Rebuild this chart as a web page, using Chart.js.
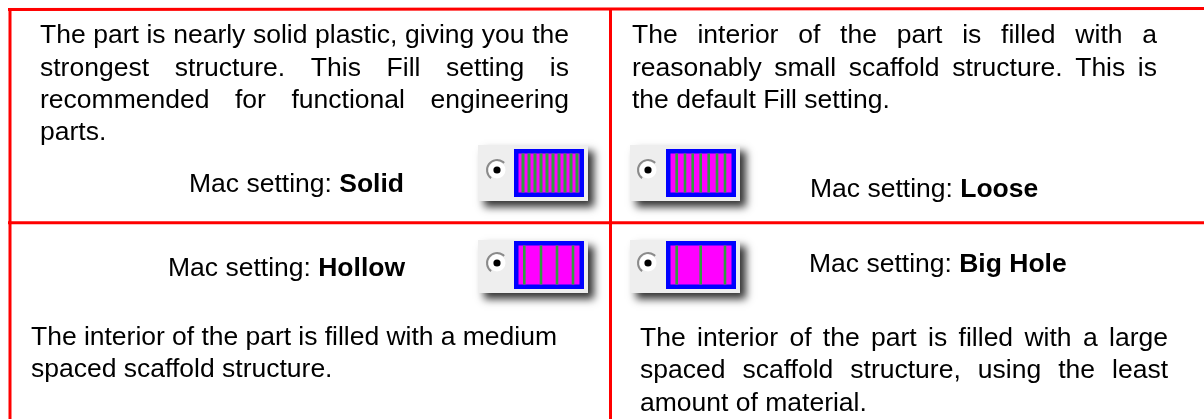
<!DOCTYPE html>
<html><head><meta charset="utf-8">
<style>html,body{margin:0;padding:0;background:#fff}canvas{display:block}</style>
<script src="https://cdn.jsdelivr.net/npm/chart.js@4/dist/chart.umd.min.js"></script>
</head><body><div style="width:1204px;height:419px"><canvas id="c" width="1204" height="419"></canvas></div>
<script>
const settingNames = ['Solid', 'Loose', 'Hollow', 'Big Hole'];
const solidText = ['The part is nearly solid plastic, giving you the','strongest structure. This Fill setting is','recommended for functional engineering','parts.'];
const looseText = ['The interior of the part is filled with a','reasonably small scaffold structure. This is','the default Fill setting.'];
const hollowText = ['The interior of the part is filled with a medium','spaced scaffold structure.'];
const bigHoleText = ['The interior of the part is filled with a large','spaced scaffold structure, using the least','amount of material.'];
const solidStripes = [523,529,535,541,547,553,559,565,571,577];
const looseStripes = [676.7,685,692.7,700.7,708.7,717,725];
const hollowStripes = [524.3,541,557,573];
const bigHoleStripes = [676.7,700.7,725];

const RED='#f00',BLUE='#00f',MAG='#f0f',GREEN='#2f9e3f';
const segs=[];
function seg(x1,y1,x2,y2,color,w){segs.push({type:'line',data:[{x:x1,y:y1},{x:x2,y:y2}],borderColor:color,borderWidth:w,pointRadius:0,fill:false,tension:0,borderCapStyle:'butt',order:-segs.length});}
const icons=[
 {name:settingNames[0],panel:[478,145,588,201],blue:[514,149,584,197],radio:[497,170],st:solidStripes,sw:3},
 {name:settingNames[1],panel:[630,145,740,201],blue:[666,149,736,197],radio:[648,170],st:looseStripes,sw:2.6},
 {name:settingNames[2],panel:[478,240,588,293],blue:[514,241,584,289],radio:[497,263],st:hollowStripes,sw:2.6},
 {name:settingNames[3],panel:[630,240,740,293],blue:[666,241,736,289],radio:[648,263],st:bigHoleStripes,sw:2.6}];
icons.forEach(ic=>{const [a,b,c,d]=ic.blue,m=(b+d)/2;
 seg(a,m,c,m,BLUE,d-b);
 seg(a+4.5,m,c-4.5,m,MAG,d-b-9);
 ic.st.forEach(x=>seg(x,b+4.5,x,d-4.5,GREEN,ic.sw));
});
seg(10,9,10,419,RED,3);
seg(8,9.5,1204,8.5,RED,3);
seg(610.5,8,610.5,419,RED,3);
seg(8,222.7,1204,222.7,RED,3);

const F='"Liberation Sans",Arial,sans-serif',FS=26.5,LH=32.3;
const blocks=[
 {lines:solidText,x:40,r:569,y:43.3},
 {lines:looseText,x:632,r:1157,y:43.3},
 {lines:hollowText,x:31,r:557,y:345},
 {lines:bigHoleText,x:640,r:1168,y:346}];
const macs=[
 {n:0,x:189,y:191.7},{n:1,x:810,y:196.7},{n:2,x:168,y:275.7},{n:3,x:809,y:271.7}];
const plugin={id:'sheet',
 beforeDatasetsDraw(ch){const g=ch.ctx,X=ch.scales.x,Y=ch.scales.y;
  g.save();
  icons.forEach(ic=>{const [a,b,c,d]=ic.panel;const x=X.getPixelForValue(a),y=Y.getPixelForValue(b),w=X.getPixelForValue(c)-x,h=Y.getPixelForValue(d)-y;
   g.shadowColor='rgba(0,0,0,.8)';g.shadowBlur=8;g.shadowOffsetX=6;g.shadowOffsetY=6;
   g.fillStyle='#eee';g.fillRect(x,y,w,h);
   g.shadowColor='transparent';g.shadowBlur=0;g.shadowOffsetX=0;g.shadowOffsetY=0;
  });
  g.restore();
 },
 afterDatasetsDraw(ch){const g=ch.ctx,X=ch.scales.x,Y=ch.scales.y;
  g.save();
  g.filter='blur(0.6px)';
  icons.forEach(ic=>{const x=X.getPixelForValue(ic.radio[0]),y=Y.getPixelForValue(ic.radio[1]);
   g.fillStyle='#fff';g.beginPath();g.arc(x,y,8.5,0,7);g.fill();
   g.strokeStyle='#8a8a8a';g.lineWidth=2;g.beginPath();g.arc(x,y,10,Math.PI*0.7,Math.PI*1.75);g.stroke();
   g.fillStyle='#000';g.beginPath();g.arc(x,y,3.6,0,7);g.fill();
  });
  g.filter='blur(0.3px)';
  g.fillStyle='#000';g.textBaseline='alphabetic';g.textAlign='left';
  blocks.forEach(b=>{b.lines.forEach((ln,i)=>{
    g.font=FS+'px '+F;const y=Y.getPixelForValue(b.y+i*LH),x0=X.getPixelForValue(b.x),x1=X.getPixelForValue(b.r);
    const last=i===b.lines.length-1;
    if(last){g.fillText(ln,x0,y);return;}
    const ws=ln.split(' ');const tot=ws.reduce((s,w)=>s+g.measureText(w).width,0);
    const gap=(x1-x0-tot)/(ws.length-1);let x=x0;
    ws.forEach(w=>{g.fillText(w,x,y);x+=g.measureText(w).width+gap;});
  });});
  macs.forEach(m=>{const x=X.getPixelForValue(m.x),y=Y.getPixelForValue(m.y);
    g.font=FS+'px '+F;const t='Mac setting: ';g.fillText(t,x,y);const w=g.measureText(t).width;
    g.font='bold '+FS+'px '+F;g.fillText(settingNames[m.n],x+w,y);});
  g.restore();
 }};
new Chart(document.getElementById('c'),{type:'line',data:{datasets:segs},plugins:[plugin],
 options:{responsive:false,animation:false,parsing:true,layout:{padding:0},
  plugins:{legend:{display:false},tooltip:{enabled:false},title:{display:false}},
  scales:{x:{type:'linear',min:0,max:1204,display:false},y:{type:'linear',min:0,max:419,reverse:true,display:false}}}});
</script></body></html>
